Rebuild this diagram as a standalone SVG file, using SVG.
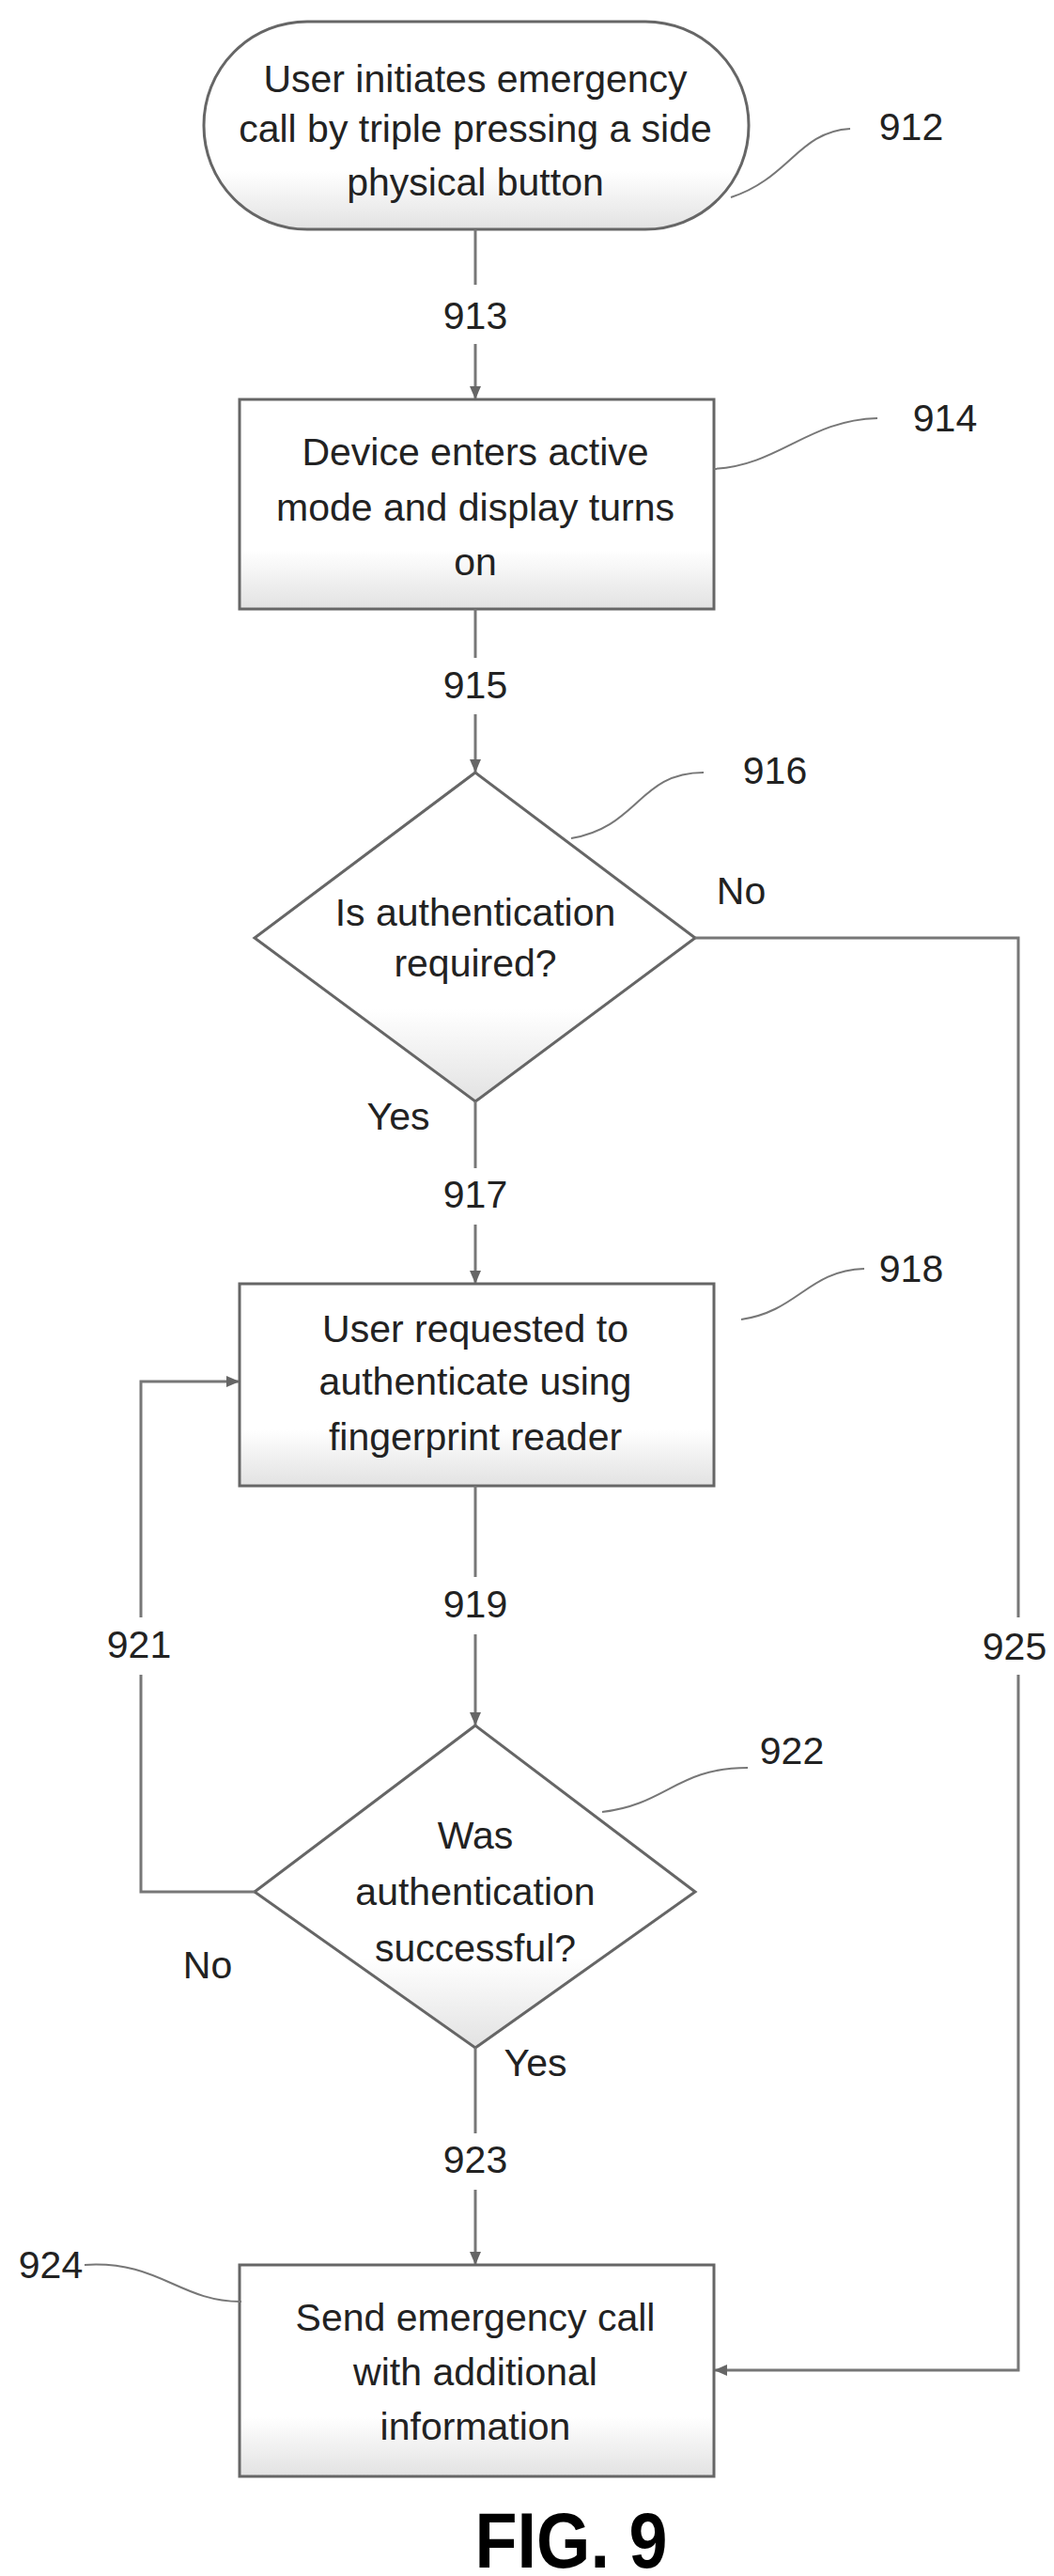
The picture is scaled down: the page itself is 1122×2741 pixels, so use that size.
<svg xmlns="http://www.w3.org/2000/svg" width="1122" height="2741" viewBox="0 0 1122 2741">
<style>
.s{fill:url(#g);stroke:#666;stroke-width:3}
.t{font-family:"Liberation Sans",Arial,sans-serif;font-size:41px;fill:#222;text-anchor:middle;dominant-baseline:central}
.c{fill:none;stroke:#777;stroke-width:3}
.l{fill:none;stroke:#777;stroke-width:2}
</style>
<defs>
<linearGradient id="g" x1="0" y1="0" x2="0" y2="1"><stop offset="0.72" stop-color="#fff"/><stop offset="1" stop-color="#e2e2e2"/></linearGradient>
<marker id="a" markerWidth="14" markerHeight="14" refX="13" refY="7" orient="auto" markerUnits="userSpaceOnUse"><path d="M0,1 L14,7 L0,13 z" fill="#666"/></marker>
</defs>
<rect width="1122" height="2741" fill="#fff"/>
<g id="n912"><rect class="s" x="217" y="23" width="580" height="221" rx="110"/>
<text class="t" x="506" y="84">User initiates emergency</text><text class="t" x="506" y="137">call by triple pressing a side</text><text class="t" x="506" y="194">physical button</text></g>
<g id="n914"><rect class="s" x="255" y="425" width="505" height="223"/>
<text class="t" x="506" y="481">Device enters active</text><text class="t" x="506" y="540">mode and display turns</text><text class="t" x="506" y="598">on</text></g>
<g id="n916"><path class="s" d="M506,822 L740,998 L506,1172 L271,998 Z"/>
<text class="t" x="506" y="971">Is authentication</text><text class="t" x="506" y="1025">required?</text></g>
<g id="n918"><rect class="s" x="255" y="1366" width="505" height="215"/>
<text class="t" x="506" y="1414">User requested to</text><text class="t" x="506" y="1470">authenticate using</text><text class="t" x="506" y="1529">fingerprint reader</text></g>
<g id="n922"><path class="s" d="M506,1836 L740,2013 L506,2179 L271,2013 Z"/>
<text class="t" x="506" y="1953">Was</text><text class="t" x="506" y="2013">authentication</text><text class="t" x="506" y="2073">successful?</text></g>
<g id="n924"><rect class="s" x="255" y="2410" width="505" height="225"/>
<text class="t" x="506" y="2466">Send emergency call</text><text class="t" x="506" y="2524">with additional</text><text class="t" x="506" y="2582">information</text></g>
<g id="connectors">
<path class="c" d="M506,244 V303"/><path class="c" d="M506,366 V424" marker-end="url(#a)"/>
<path class="c" d="M506,648 V700"/><path class="c" d="M506,760 V821" marker-end="url(#a)"/>
<path class="c" d="M506,1172 V1243"/><path class="c" d="M506,1303 V1365" marker-end="url(#a)"/>
<path class="c" d="M506,1581 V1678"/><path class="c" d="M506,1739 V1835" marker-end="url(#a)"/>
<path class="c" d="M506,2179 V2270"/><path class="c" d="M506,2330 V2409" marker-end="url(#a)"/>
<path class="c" d="M271,2013 H150 V1782"/><path class="c" d="M150,1721 V1470 H254" marker-end="url(#a)"/>
<path class="c" d="M740,998 H1084 V1721"/><path class="c" d="M1084,1782 V2522 H761" marker-end="url(#a)"/>
<path class="l" d="M778,210 C840,190 850,140 905,137"/>
<path class="l" d="M760,499 C830,495 860,447 934,445"/>
<path class="l" d="M608,892 C680,880 680,822 749,822"/>
<path class="l" d="M789,1404 C850,1395 860,1352 920,1350"/>
<path class="l" d="M641,1928 C710,1920 720,1881 796,1881"/>
<path class="l" d="M90,2410 C170,2405 190,2449 257,2449"/>
</g>
<text class="t" x="506" y="336">913</text>
<text class="t" x="506" y="729">915</text>
<text class="t" x="506" y="1271">917</text>
<text class="t" x="506" y="1707">919</text>
<text class="t" x="506" y="2298">923</text>
<text class="t" x="148" y="1750">921</text>
<text class="t" x="1080" y="1752">925</text>
<text class="t" x="970" y="135">912</text>
<text class="t" x="1006" y="445">914</text>
<text class="t" x="825" y="820">916</text>
<text class="t" x="970" y="1350">918</text>
<text class="t" x="843" y="1863">922</text>
<text class="t" x="54" y="2410">924</text>
<text class="t" x="789" y="948">No</text>
<text class="t" x="424" y="1188">Yes</text>
<text class="t" x="221" y="2091">No</text>
<text class="t" x="570" y="2195">Yes</text>
<text x="608" y="2732" style="font-family:'Liberation Sans',Arial,sans-serif;font-size:84px;font-weight:bold;text-anchor:middle;fill:#000" textLength="205" lengthAdjust="spacingAndGlyphs">FIG. 9</text>
</svg>
